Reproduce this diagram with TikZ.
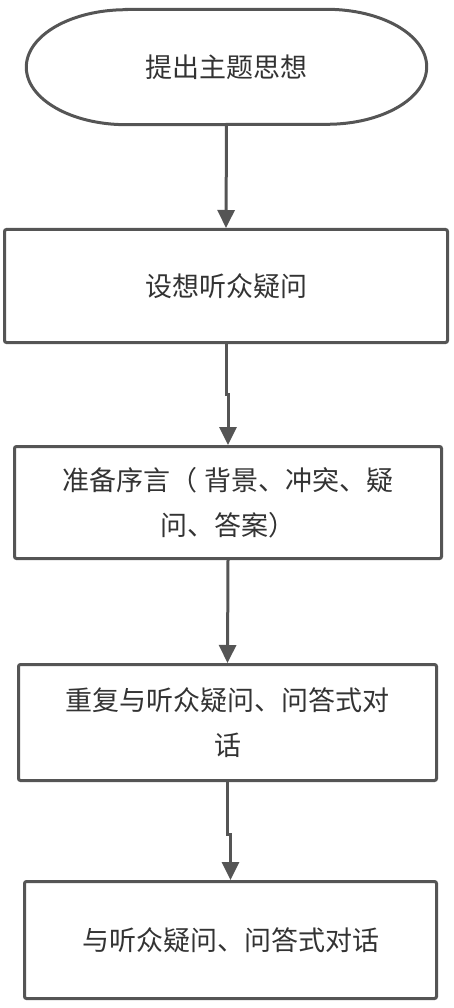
\documentclass[tikz,border=0pt]{standalone}
\usepackage{fontspec}
\usepackage{tikz}
\usetikzlibrary{arrows.meta, positioning, calc}
\newfontfamily\cjkfont{Noto Sans CJK SC}
\definecolor{linegray}{RGB}{85,85,85}
\definecolor{textgray}{RGB}{51,51,51}
\tikzset{
  terminal/.style={draw=none, minimum width=400pt, minimum height=115pt,
                   align=center, font=\cjkfont\fontsize{27pt}{45pt}\selectfont, text=textgray},
  process/.style={draw=linegray, line width=3pt, rounded corners=2pt, fill=white,
                  align=center, font=\cjkfont\fontsize{27pt}{45pt}\selectfont, text=textgray, inner sep=0pt},
  flow/.style={draw=linegray, line width=3pt, -{Triangle[width=17pt,length=18pt]}},
}
\begin{document}
\begin{tikzpicture}[x=1pt, y=1pt]
\useasboundingbox (0,0) rectangle (454,-1008);
% start node, elliptical ends drawn by hand
\node[terminal] (start) at (226.5,-67) {提出主题思想};
\draw[linegray, line width=3pt]
  ([xshift=100pt]start.north west) -- ([xshift=-100pt]start.north east)
  arc[start angle=90, end angle=-90, x radius=100pt, y radius=57.5pt]
  -- ([xshift=100pt]start.south west)
  arc[start angle=270, end angle=90, x radius=100pt, y radius=57.5pt] -- cycle;
% process boxes
\node[process, minimum width=443pt, minimum height=113pt] (assume) at (226,-286) {设想听众疑问};
\node[process, minimum width=427pt, minimum height=112pt] (preface) at (228,-502.5)
  {准备序言（ 背景、冲突、疑\\问、答案）};
\node[process, minimum width=418pt, minimum height=116pt] (repeat) at (227.5,-722.5)
  {重复与听众疑问、问答式对\\话};
\node[process, minimum width=412pt, minimum height=117pt] (dialog) at (230.5,-940)
  {与听众疑问、问答式对话};
% connectors
\draw[flow] (start.south) -- (assume.north);
\draw[flow] (assume.south) -- ++(0,-50pt) -| (preface.north);
\draw[flow] (preface.south) -- (repeat.north);
\draw[flow] (repeat.south) -- ++(0,-52pt) -| (dialog.north);
\end{tikzpicture}
\end{document}
